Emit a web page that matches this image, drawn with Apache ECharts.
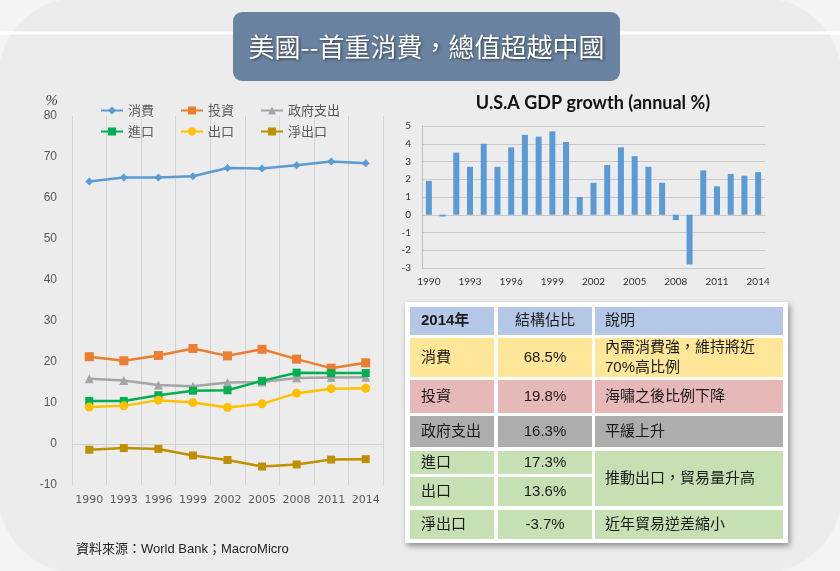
<!DOCTYPE html>
<html>
<head>
<meta charset="utf-8">
<script src="https://cdn.jsdelivr.net/npm/echarts@6/dist/echarts.min.js"></script>
<style>
html,body{margin:0;padding:0;background:#f4f4f4;}
#main{width:840px;height:571px;}
</style>
</head>
<body>
<div id="main"></div>
<script>
// ---- data ----
const years = ['1990','1993','1996','1999','2002','2005','2008','2011','2014'];
const consumption = [64.0,65.0,65.0,65.3,67.3,67.2,68.0,68.9,68.5];
const investment  = [21.3,20.3,21.6,23.3,21.5,23.1,20.7,18.5,19.8];
const government  = [15.9,15.5,14.4,14.1,15.0,15.1,16.1,16.2,16.3];
const imports     = [10.5,10.5,11.9,13.0,13.1,15.4,17.4,17.3,17.3];
const exportsVals = [9.0,9.3,10.7,10.1,8.9,9.8,12.4,13.5,13.6];
const netExports  = [-1.4,-1.0,-1.2,-2.8,-3.9,-5.5,-5.0,-3.8,-3.7];
const seriesNames = ['消費','投資','政府支出','進口','出口','淨出口'];

const gdpYears = ['1990','1991','1992','1993','1994','1995','1996','1997','1998','1999','2000','2001','2002','2003','2004','2005','2006','2007','2008','2009','2010','2011','2012','2013','2014'];
const gdpGrowth = [1.9,-0.1,3.5,2.7,4.0,2.7,3.8,4.5,4.4,4.7,4.1,1.0,1.8,2.8,3.8,3.3,2.7,1.8,-0.3,-2.8,2.5,1.6,2.3,2.2,2.4];

const pageTitle = '美國--首重消費，總值超越中國';
const gdpTitle = 'U.S.A GDP growth (annual %)';
const sourceText = '資料來源：World Bank；MacroMicro';

const tableHead = ['2014年','結構佔比','說明'];
const tableItems = ['消費','投資','政府支出','進口','出口','淨出口'];
const tableShares = ['68.5%','19.8%','16.3%','17.3%','13.6%','-3.7%'];
const tableNotes = ['內需消費強，維持將近\n70%高比例','海嘯之後比例下降','平緩上升','推動出口，貿易量升高',null,'近年貿易逆差縮小'];

// ---- styles ----
const CJK = '"Noto Sans CJK TC","Noto Sans CJK SC",sans-serif';
const MIX = '"Liberation Sans","Noto Sans CJK TC","Noto Sans CJK SC",sans-serif';
const colors = ['#5b9bd5','#ed7d31','#a5a5a5','#00b050','#ffc000','#bf9000'];
const symbols = ['diamond','rect','triangle','rect','circle','rect'];
const symbolSizes = [8,9,9,8,9,8];
const lineData = [consumption, investment, government, imports, exportsVals, netExports];

const chart = echarts.init(document.getElementById('main'), null, {renderer:'canvas'});

const lineSeries = seriesNames.map((n,i)=>{
  const s = {
    name:n, type:'line', xAxisIndex:0, yAxisIndex:0,
    data: lineData[i], symbol: symbols[i], symbolSize: symbolSizes[i],
    showAllSymbol:true,
    lineStyle:{color:colors[i], width:2.5},
    itemStyle:{color:colors[i]},
    emphasis:{disabled:true},
    z: 3 + i
  };
  if(i===0){
    s.markLine = {silent:true, symbol:'none', label:{show:false},
      lineStyle:{color:'#d0d0d0', type:'solid', width:1},
      data:[{yAxis:0}], z:1, animation:false};
  }
  return s;
});

// table graphics
const tbl = [];
const colX = [410,498,595];
const colW = [84,94,188];
const rowTop = [307,338,380,416,451,477,510];
const rowH = [28,39,33,31,23,29,29];
const rowColor = ['#b4c7e7','#ffe699','#e6b9b8','#afacac','#c6e0b4','#c6e0b4','#c6e0b4'];
tbl.push({type:'rect', z:20, shape:{x:405,y:302,width:383,height:241},
  style:{fill:'#ffffff', shadowBlur:6, shadowOffsetX:2, shadowOffsetY:3, shadowColor:'rgba(0,0,0,0.4)'}});
for(let r=0;r<7;r++){
  for(let c=0;c<3;c++){
    let h = rowH[r];
    if(c===2 && r===5) continue;
    if(c===2 && r===4) h = rowTop[5]+rowH[5]-rowTop[4];
    tbl.push({type:'rect', z:21, shape:{x:colX[c],y:rowTop[r],width:colW[c],height:h},
      style:{fill:rowColor[r]}});
    let txt;
    if(r===0) txt = tableHead[c];
    else if(c===0) txt = tableItems[r-1];
    else if(c===1) txt = tableShares[r-1];
    else txt = tableNotes[r-1];
    if(!txt) continue;
    const tx = c===0 ? colX[0]+11 : (c===1 ? colX[1]+colW[1]/2 : colX[2]+10);
    tbl.push({type:'text', z:22, x:tx, y:rowTop[r]+h/2,
      style:{text:txt, fill:'#1a1a1a', font:(r===0&&c===0?'bold ':'')+'15px '+MIX,
        align: c===1?'center':'left', verticalAlign:'middle', lineHeight:20}});
  }
}

const option = {
  backgroundColor:'transparent',
  animation:false,
  graphic:[
    {type:'rect', z:-20, silent:true, shape:{x:-2,y:-2,width:844,height:575,r:80}, style:{fill:'#ececec'}},
    {type:'line', z:-19, silent:true, shape:{x1:0,y1:33,x2:233,y2:33}, style:{stroke:'#ffffff', lineWidth:3}},
    {type:'line', z:-19, silent:true, shape:{x1:620,y1:33,x2:840,y2:33}, style:{stroke:'#ffffff', lineWidth:3}},
    {type:'rect', z:20, shape:{x:233,y:12,width:387,height:69,r:9}, style:{fill:'#6a83a0'}},
    {type:'text', z:21, x:426.5, y:47, style:{text:pageTitle, fill:'#ffffff', font:'26px '+CJK,
      align:'center', verticalAlign:'middle', textShadowColor:'rgba(0,0,0,0.55)', textShadowBlur:3, textShadowOffsetX:1, textShadowOffsetY:1}},
    {type:'text', z:21, x:76, y:549, style:{text:sourceText, fill:'#222222', font:'13px '+MIX, align:'left', verticalAlign:'middle'}},
    ...tbl
  ],
  title:{text:gdpTitle, left:588, top:89, textAlign:'center',
    textStyle:{fontFamily:'Lato, "Open Sans", sans-serif', fontWeight:'bold', fontSize:18, color:'#111111'}},
  legend:[
    {data:seriesNames.slice(0,3), left:95, top:99, itemWidth:22, itemHeight:10, itemGap:26,
      textStyle:{color:'#595959', fontSize:13, fontFamily:CJK}, selectedMode:false},
    {data:seriesNames.slice(3), left:95, top:120, itemWidth:22, itemHeight:10, itemGap:26,
      textStyle:{color:'#595959', fontSize:13, fontFamily:CJK}, selectedMode:false}
  ],
  grid:[
    {left:72, right:457, top:116, bottom:86},
    {left:422, right:75, top:126, bottom:303}
  ],
  xAxis:[
    {type:'category', gridIndex:0, data:years, boundaryGap:true,
      axisLine:{show:false}, axisTick:{show:false},
      axisLabel:{color:'#595959', fontSize:11, fontFamily:'"DejaVu Sans", sans-serif', margin:10, interval:0},
      splitLine:{show:true, interval:0, lineStyle:{color:'#d4d4d4', width:1}}},
    {type:'category', gridIndex:1, data:gdpYears, boundaryGap:true,
      axisLine:{show:false}, axisTick:{show:false},
      axisLabel:{color:'#333333', fontSize:10, fontFamily:'Lato, sans-serif', interval:2, margin:9},
      splitLine:{show:false}}
  ],
  yAxis:[
    {type:'value', gridIndex:0, min:-10, max:80, interval:10,
      name:'%', nameLocation:'end', nameGap:15,
      nameTextStyle:{color:'#404040', fontSize:15, fontStyle:'italic', fontFamily:'"Liberation Serif", serif', align:'right', verticalAlign:'middle', padding:[0,14,0,0]},
      axisLine:{show:false}, axisTick:{show:false}, splitLine:{show:false},
      axisLabel:{color:'#595959', fontSize:12, fontFamily:'"Liberation Sans", Arial, sans-serif', margin:15}},
    {type:'value', gridIndex:1, min:-3, max:5, interval:1,
      axisLine:{show:true, lineStyle:{color:'#bfbfbf'}}, axisTick:{show:false},
      splitLine:{show:true, lineStyle:{color:'#c8c8c8', width:1}},
      axisLabel:{color:'#333333', fontSize:10, fontFamily:'Lato, sans-serif', margin:11}}
  ],
  series:[
    ...lineSeries,
    {name:'GDP growth', type:'bar', xAxisIndex:1, yAxisIndex:1, data:gdpGrowth,
      barWidth:6, itemStyle:{color:'#5b9bd5'}, emphasis:{disabled:true}}
  ]
};
chart.setOption(option);
</script>
</body>
</html>
